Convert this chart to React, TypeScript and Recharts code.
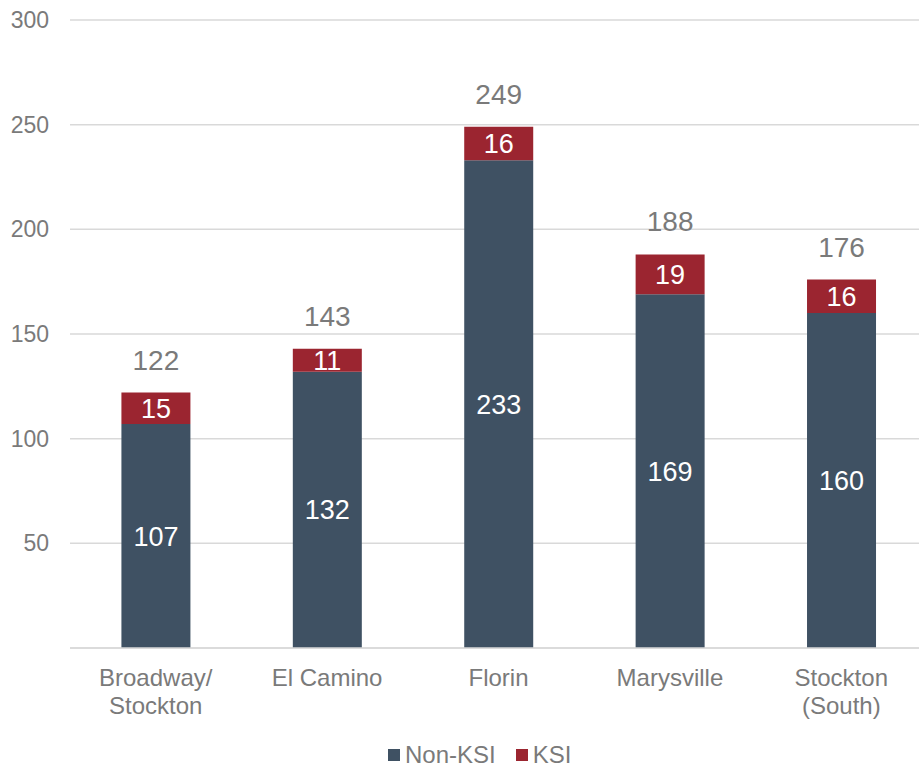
import { BarChart, Bar, XAxis, YAxis, CartesianGrid, LabelList } from 'recharts';

const corridors = ['Broadway/\nStockton', 'El Camino', 'Florin', 'Marysville', 'Stockton\n(South)'];
const nonKsi = [107, 132, 233, 169, 160];
const ksi = [15, 11, 16, 19, 16];
const totals = [122, 143, 249, 188, 176];
const yTicks = [0, 50, 100, 150, 200, 250, 300];

const NAVY = '#3F5163';
const RED = '#9B2530';
const GREY = '#7A7A7A';
const FONT = '"Liberation Sans", Arial, sans-serif';

const data = corridors.map((name, i) => ({
    name,
    nonKsi: nonKsi[i],
    ksi: ksi[i],
    total: totals[i],
}));

// multi-line category labels
const CategoryTick = ({ x, y, payload }: any) => {
    const lines = String(payload.value).split('\n');
    return (
        <text x={x} y={y} textAnchor="middle" fill={GREY} fontSize={24} fontFamily={FONT}>
            {lines.map((line, i) => (
                <tspan key={i} x={x} dy={i === 0 ? 30 : 28}>{line}</tspan>
            ))}
        </text>
    );
};

const swatch = (color: string) => (
    <span style={{ width: 12, height: 12, background: color, display: 'inline-block', marginRight: 5 }} />
);

export default function App() {
    return (
        <div style={{ position: 'absolute', left: 0, top: 0, width: 919, height: 771, overflow: 'hidden', background: '#fff' }}>
            {/* plot runs a little past the right edge, like the original */}
            <BarChart
                width={927}
                height={771}
                data={data}
                margin={{ top: 20, right: 0, bottom: 93, left: 0 }}
                barCategoryGap="30%"
            >
                <CartesianGrid vertical={false} stroke="#D9D9D9" strokeWidth={1.5} />
                <XAxis
                    dataKey="name"
                    tick={<CategoryTick />}
                    tickLine={false}
                    axisLine={{ stroke: '#D9D9D9', strokeWidth: 1.5 }}
                    interval={0}
                />
                <YAxis
                    width={70}
                    domain={[0, 300]}
                    ticks={yTicks}
                    tickFormatter={(v: number) => (v === 0 ? '' : String(v))}
                    tick={{ fill: GREY, fontSize: 23, fontFamily: FONT }}
                    tickLine={false}
                    axisLine={false}
                    tickMargin={15}
                />
                <Bar dataKey="nonKsi" stackId="a" fill={NAVY} isAnimationActive={false}>
                    <LabelList dataKey="nonKsi" position="center" fill="#fff" fontSize={27} fontFamily={FONT} />
                </Bar>
                <Bar dataKey="ksi" stackId="a" fill={RED} isAnimationActive={false}>
                    <LabelList dataKey="ksi" position="center" fill="#fff" fontSize={27} fontFamily={FONT} />
                    <LabelList dataKey="total" position="top" offset={23} fill={GREY} fontSize={28} fontFamily={FONT} />
                </Bar>
            </BarChart>
            <div
                style={{
                    position: 'absolute', left: 388, top: 741, display: 'flex', alignItems: 'center',
                    fontFamily: FONT, fontSize: 24, lineHeight: '28px', color: GREY,
                }}
            >
                {swatch(NAVY)}
                <span style={{ marginRight: 20 }}>Non-KSI</span>
                {swatch(RED)}
                <span>KSI</span>
            </div>
        </div>
    );
}
